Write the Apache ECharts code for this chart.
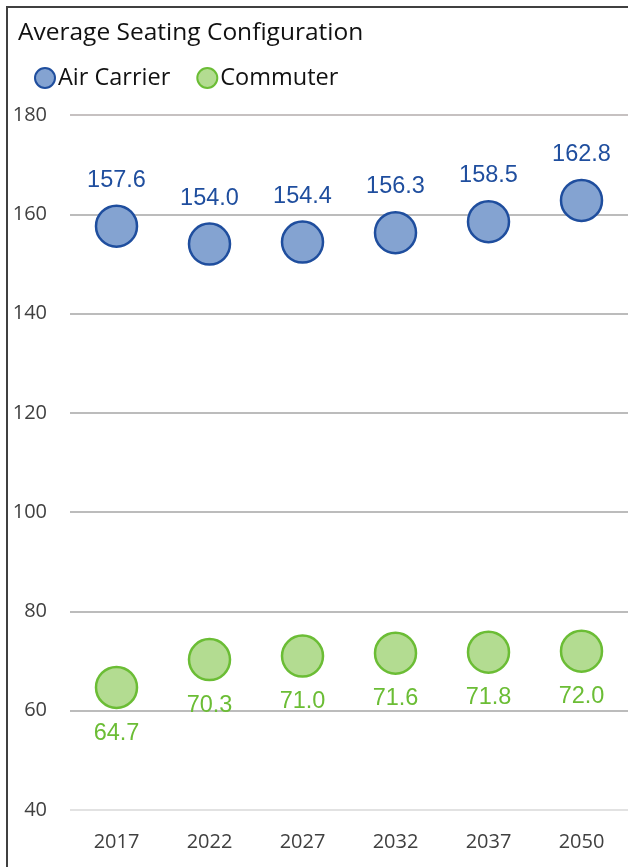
<!DOCTYPE html>
<html>
<head>
<meta charset="utf-8">
<script src="https://cdn.jsdelivr.net/npm/echarts@6/dist/echarts.min.js"></script>
<style>
  html, body { margin: 0; padding: 0; background: #fff; }
  #chart { width: 628px; height: 867px; }
</style>
</head>
<body>
<div id="chart"></div>
<script>
// Average seats per aircraft by forecast year
const years = ['2017', '2022', '2027', '2032', '2037', '2050'];
const airCarrier = [157.6, 154.0, 154.4, 156.3, 158.5, 162.8];
const commuter = [64.7, 70.3, 71.0, 71.6, 71.8, 72.0];

const uiFont = '"Open Sans", "Noto Sans", sans-serif';
const valueFont = '"Liberation Sans", Arial, sans-serif';

const chart = echarts.init(document.getElementById('chart'), null, { renderer: 'canvas' });

chart.setOption({
  animation: false,
  backgroundColor: '#ffffff',
  title: {
    text: 'Average Seating Configuration',
    left: 13,
    top: 16,
    textStyle: { fontFamily: uiFont, fontSize: 24.5, fontWeight: 'normal', color: '#111111' }
  },
  legend: {
    left: 29,
    top: 61,
    icon: 'circle',
    itemWidth: 20,
    itemHeight: 20,
    itemGap: 26,
    textStyle: { fontFamily: uiFont, fontSize: 23.5, color: '#111111', padding: [0, 0, 0, -2] },
    data: ['Air Carrier', 'Commuter']
  },
  grid: { left: 70, top: 115, width: 560, height: 695, containLabel: false },
  xAxis: {
    type: 'category',
    data: years,
    axisLine: { show: false },
    axisTick: { show: false },
    axisLabel: { fontFamily: uiFont, fontSize: 20, color: '#404040', margin: 22 }
  },
  yAxis: {
    type: 'value',
    min: 40,
    max: 180,
    interval: 20,
    axisLine: { show: false },
    axisTick: { show: false },
    axisLabel: { fontFamily: uiFont, fontSize: 20, color: '#404040', align: 'right', margin: 23 },
    splitLine: {
      lineStyle: {
        color: ['#d9d9d9', '#a6a6a6', '#a6a6a6', '#a6a6a6', '#a6a6a6', '#a6a6a6', '#a6a6a6', '#b3adad'],
        width: 1.5
      }
    }
  },
  series: [
    {
      name: 'Air Carrier',
      type: 'scatter',
      data: airCarrier,
      symbol: 'circle',
      symbolSize: 41,
      itemStyle: { color: '#84a3d1', borderColor: '#1f4e9e', borderWidth: 2.5, opacity: 1 },
      label: {
        show: true,
        position: 'top',
        distance: 12,
        formatter: p => p.value.toFixed(1),
        fontFamily: valueFont,
        fontSize: 23.5,
        color: '#1f4e9e'
      }
    },
    {
      name: 'Commuter',
      type: 'scatter',
      data: commuter,
      symbol: 'circle',
      symbolSize: 41,
      itemStyle: { color: '#b3dc91', borderColor: '#6bbd35', borderWidth: 2.5, opacity: 1 },
      label: {
        show: true,
        position: 'bottom',
        distance: 12,
        formatter: p => p.value.toFixed(1),
        fontFamily: valueFont,
        fontSize: 23.5,
        color: '#6bbd35'
      }
    }
  ],
  graphic: [
    { type: 'line', shape: { x1: 7, y1: 7, x2: 7, y2: 867 }, style: { stroke: '#404040', lineWidth: 2 } },
    { type: 'line', shape: { x1: 6, y1: 7, x2: 628, y2: 7 }, style: { stroke: '#404040', lineWidth: 2 } }
  ]
});
</script>
</body>
</html>
